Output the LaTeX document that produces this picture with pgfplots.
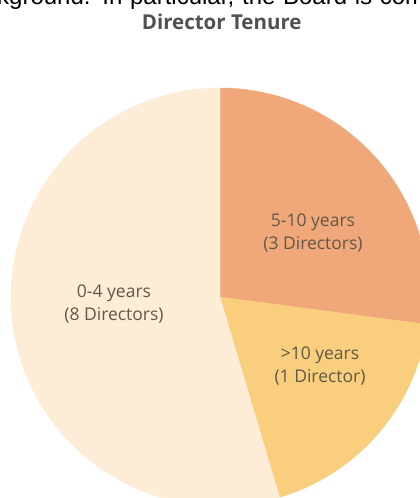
\documentclass[border=0pt]{standalone}
\usepackage{pgfplots}
\pgfplotsset{compat=1.18}
\usepackage{fontspec}
\setmainfont{Open Sans}
\newfontfamily\arialfont{Liberation Sans}
\definecolor{cream}{RGB}{253,236,214}
\definecolor{orangeS}{RGB}{240,168,122}
\definecolor{yellowS}{RGB}{249,206,124}
\definecolor{labelc}{RGB}{98,88,72}
\definecolor{titlec}{RGB}{80,80,80}
% slice shares (percent of the circle, as drawn)
\def\sA{54.6} % 0-4 years (8 Directors)
\def\sB{27.1} % 5-10 years (3 Directors)
\def\sC{18.3} % >10 years (1 Director)
\pgfmathsetmacro{\aTop}{90}
\pgfmathsetmacro{\aB}{90-3.6*\sB}
\pgfmathsetmacro{\aC}{90-3.6*(\sB+\sC)}
\pgfmathsetmacro{\aEnd}{\aC-3.6*\sA}
\begin{document}
\begin{tikzpicture}[x=1pt,y=1pt]
\path[use as bounding box] (0,0) rectangle (420,498);
\clip (0,0) rectangle (420,498);
\begin{axis}[at={(0,0)}, anchor=south west, scale only axis,
  width=420pt, height=498pt, xmin=0, xmax=420, ymin=0, ymax=498,
  hide axis, clip=true]
\addplot[fill=orangeS, draw=orangeS, line width=0.4pt, domain=\aB:\aTop, samples=90, variable=\t]
  ({220+209*cos(\t)},{201+209*sin(\t)}) -- (axis cs:220,201) -- cycle;
\addplot[fill=yellowS, draw=yellowS, line width=0.4pt, domain=\aC:\aB, samples=90, variable=\t]
  ({220+209*cos(\t)},{201+209*sin(\t)}) -- (axis cs:220,201) -- cycle;
\addplot[fill=cream, draw=cream, line width=0.4pt, domain=\aEnd:\aC, samples=150, variable=\t]
  ({220+209*cos(\t)},{201+209*sin(\t)}) -- (axis cs:220,201) -- cycle;
\node[font=\fontsize{17.5}{23}\selectfont, text=labelc, align=center] at (axis cs:313,264.5) {5-10 years\\(3 Directors)};
\node[font=\fontsize{17.5}{23}\selectfont, text=labelc, align=center] at (axis cs:320,131.5) {>10 years\\(1 Director)};
\node[font=\fontsize{17.5}{23}\selectfont, text=labelc, align=center] at (axis cs:114,193.5) {0-4 years\\(8 Directors)};
\end{axis}
\node[anchor=base, inner sep=0pt, font=\bfseries\fontsize{20.5}{24}\selectfont, text=titlec] at (221.7,468.5) {Director Tenure};
\node[overlay, anchor=base west, inner sep=0pt, font=\arialfont\fontsize{24}{28}\selectfont, text=black] at (-3,493.5) {\makebox[428pt][s]{kground. In particular, the Board is com}};
\end{tikzpicture}
\end{document}
